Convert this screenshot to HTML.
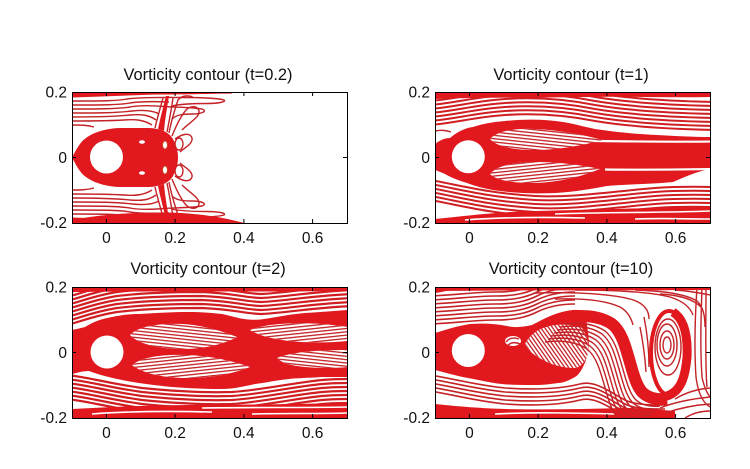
<!DOCTYPE html>
<html><head><meta charset="utf-8"><style>
html,body{margin:0;padding:0;background:#fff}
svg{display:block}
text{font-family:"Liberation Sans",Arial,sans-serif;fill:#111}
.tk{font-size:15.5px}
.tt{font-size:16.4px}
.f{fill:#e1191e}
.l{fill:none;stroke:#c42226;stroke-width:1.4}
.t{fill:none;stroke:#d01e22;stroke-width:2}
.wl{fill:none;stroke:#fff;stroke-width:1.6}
.ax{fill:none;stroke:#000;stroke-width:1}
</style></head><body>
<svg width="750" height="469" viewBox="0 0 750 469" xmlns="http://www.w3.org/2000/svg">
<defs>
<clipPath id="c"><rect width="275" height="131"/></clipPath>
<pattern id="pa" width="10" height="3.3" patternUnits="userSpaceOnUse" patternTransform="rotate(6)"><rect width="10" height="1.3" fill="#c42226"/></pattern>
<pattern id="pb" width="10" height="3.3" patternUnits="userSpaceOnUse" patternTransform="rotate(-6)"><rect width="10" height="1.3" fill="#c42226"/></pattern>
<pattern id="pc" width="10" height="3.2" patternUnits="userSpaceOnUse" patternTransform="rotate(55)"><rect width="10" height="1.3" fill="#c42226"/></pattern>
</defs>

<!-- ============ Panel 1 (t=0.2) ============ -->
<g transform="translate(72,92)">
<g clip-path="url(#c)">
<rect width="275" height="131" fill="#fff"/>
<path class="f" d="M0,65.5 C4,58 8,50 14,46 C22,40 35,36 50,36 L75,36 C88,36 97,40 101,47 C105,55 106,60 106,65.5 C106,71 105,76 101,84 C97,91 88,95 75,95 L50,95 C35,95 22,91 14,85 C8,81 4,73 0,65.5 Z"/>
<g id="p1u">
<path class="f" d="M0,0 H160 V1.5 C130,2 110,2.5 90,2.5 C60,3 35,4.5 0,5.5 Z"/>
<path class="l" d="M0,9 C30,9 45,9 55,7 C70,5 90,5.5 110,5.5 C130,5.5 145,6 152,8 C155,10 145,11.5 135,11.5 C120,11.5 108,12 100,14"/>
<path class="l" d="M0,13 C30,13 48,13 58,11 C70,9 85,9.5 97,10"/>
<path class="l" d="M0,17 C25,17 45,17 58,15 C68,13 80,13.5 92,14.5 C105,15.5 118,15 130,17 C136,19 130,22 120,22 C110,22 104,23 100,27"/>
<path class="l" d="M0,21 C25,21 45,21 60,19 C70,18 80,18 87,22"/>
<path class="l" d="M0,25 C20,25 40,25 58,23 C70,22 77,23 84,28"/>
<path class="l" d="M0,29 C18,29 35,29 52,28 C64,27 72,28 80,33"/>
<path class="l" d="M0,33 C8,33 15,33 22,35"/>
<path class="f" d="M86,37 C88,27 91,16 94,4 L97,4 C95,16 93,27 92,39 Z"/>
<path class="l" d="M83,36 C85,27 88,17 91,6"/>
<path class="l" d="M95,40 C97,30 99,20 101,6"/>
<path class="l" d="M97,41 C99,30 102,20 106,8 C110,3 118,3 122,6"/>
<path class="l" d="M100,44 C104,34 108,25 114,18 C119,13 126,14 127,19 C128,25 118,30 110,38"/>
<path class="l" d="M103,47 C110,42 118,40 120,46 C121,52 112,56 108,60"/>
<ellipse class="l" cx="107" cy="52" rx="4" ry="6"/>
<ellipse cx="93" cy="53" rx="2.5" ry="4" fill="#fff" stroke="#c42" stroke-width="1"/>
<ellipse cx="70" cy="50" rx="3" ry="1.8" fill="#fff"/>
</g>
<use href="#p1u" transform="matrix(1,0,0,-1,0,131)"/>
<path class="f" d="M0,131 L0,128 C30,122 60,120.5 95,120.5 C125,121 150,125 172,131 Z"/>
<circle cx="34.5" cy="65" r="16.5" fill="#fff"/>
</g>
<rect class="ax" x="0.5" y="0.5" width="275" height="131"/>
<path class="ax" d="M34.4,131V127M103.1,131V127M171.9,131V127M240.6,131V127M34.4,0V4M103.1,0V4M171.9,0V4M240.6,0V4M0,65.5H4M275,65.5H271"/>
</g>

<!-- ============ Panel 2 (t=1) ============ -->
<g transform="translate(435,92)">
<g clip-path="url(#c)">
<rect width="275" height="131" fill="#fff"/>
<path id="u2" class="t" d="M-5,33 C20,31 40,25 70,23 C100,21 130,23 160,29 C190,34 230,37 280,38"/>
<use href="#u2" y="-4"/><use href="#u2" y="-8"/><use href="#u2" y="-12"/><use href="#u2" y="-16"/><use href="#u2" y="-20"/><use href="#u2" y="-24"/><use href="#u2" y="-28"/>
<path class="l" d="M0,39 C6,38 10,38 16,40"/>
<path id="l2" class="t" d="M-5,88 C20,92 50,101 100,104 C140,106 180,99 220,96 C250,94 265,95 280,95"/>
<use href="#l2" y="4"/><use href="#l2" y="8"/><use href="#l2" y="12"/><use href="#l2" y="16"/><use href="#l2" y="20"/>
<path class="f" d="M0,52 C5,48 10,46 15,46 C22,40 30,36 38,35 C50,31 60,30 70,29 C90,27 110,27 128,30 C140,32 150,35 160,37 C180,40 200,42 222,43 C240,44 260,45 275,45 L275,77 C260,80 250,85 238,90 C220,92 195,92 172,94 C155,97 140,100 120,101 C100,102 80,101 65,99 C50,97 40,94 32,91 C22,88 15,85 10,82 C5,80 3,79 0,78 Z"/>
<path d="M160,49 C200,49.5 240,50 280,49.5" stroke="#fff" stroke-width="2.2" fill="none"/>
<path d="M170,77.5 C210,78 245,77.5 280,77" stroke="#fff" stroke-width="2.2" fill="none"/>
<path d="M55,47 C62,39 80,36 100,37 C122,38 145,42 168,48 C145,54 122,58 100,58 C80,58 62,55 55,47 Z" fill="#fff"/>
<path d="M55,47 C62,39 80,36 100,37 C122,38 145,42 168,48 C145,54 122,58 100,58 C80,58 62,55 55,47 Z" fill="url(#pa)"/>
<path d="M55,82 C62,73 82,70 100,70 C125,70 145,73 165,77 C145,85 125,90 100,91 C80,91 62,89 55,82 Z" fill="#fff"/>
<path d="M55,82 C62,73 82,70 100,70 C125,70 145,73 165,77 C145,85 125,90 100,91 C80,91 62,89 55,82 Z" fill="url(#pb)"/>
<path class="f" d="M0,0 H275 V5 C230,6 190,4 150,5 C100,6 50,5 0,7 Z"/>
<path class="f" d="M0,131 V127 C30,124 60,120 100,119 C150,118 200,116 275,115 V131 Z"/>
<path class="wl" d="M30,128 C70,125 110,125 150,126"/>
<path class="wl" d="M120,122 C170,120 220,121 275,119"/>
<path class="wl" d="M200,127 C230,126 250,127 275,127"/>
<circle cx="33.3" cy="64.7" r="16.5" fill="#fff"/>
</g>
<rect class="ax" x="0.5" y="0.5" width="275" height="131"/>
<path class="ax" d="M34.4,131V127M103.1,131V127M171.9,131V127M240.6,131V127M34.4,0V4M103.1,0V4M171.9,0V4M240.6,0V4M0,65.5H4M275,65.5H271"/>
</g>

<!-- ============ Panel 3 (t=2) ============ -->
<g transform="translate(72,287)">
<g clip-path="url(#c)">
<rect width="275" height="131" fill="#fff"/>
<path id="u3" class="t" d="M-5,38 C10,34 25,28 45,25 C70,22 100,21 130,21 C160,22 175,27 190,27 C210,26 240,21 280,19" style="stroke-width:2.2"/>
<use href="#u3" y="-4"/><use href="#u3" y="-8"/><use href="#u3" y="-12"/><use href="#u3" y="-16"/><use href="#u3" y="-20"/><use href="#u3" y="-24"/><use href="#u3" y="-28"/><use href="#u3" y="-32"/>
<path id="l3" class="t" d="M-5,88 C15,90 40,97 70,101 C100,104 130,106 160,105 C190,103 220,96 250,93 C262,92 270,92 280,92" style="stroke-width:2.2"/>
<use href="#l3" y="4"/><use href="#l3" y="8"/><use href="#l3" y="12"/><use href="#l3" y="16"/><use href="#l3" y="20"/><use href="#l3" y="24"/>
<path class="f" d="M0,43 C5,42 9,41 13,40 C18,37 22,35 25,34 C30,32 35,31 40,30 C50,28 58,27 67,27 C85,26 100,25 117,25 C130,25 140,26 150,27 C160,29 165,31 172,32 C180,33 185,33 192,32 C205,30 220,27 233,26 C250,25 262,24 275,23 L275,90 C262,90 255,90 250,90 C235,91 225,91 217,92 C200,94 192,96 183,97 C170,100 160,102 150,102 C130,102 115,101 100,100 C80,98 65,96 50,93 C35,90 25,87 17,84 C10,84 5,86 0,87 Z"/>
<path d="M58,48 C65,40 85,36 110,37 C130,38 150,44 165,50 C150,58 130,62 110,62 C85,62 65,56 58,48 Z" fill="#fff"/>
<path d="M58,48 C65,40 85,36 110,37 C130,38 150,44 165,50 C150,58 130,62 110,62 C85,62 65,56 58,48 Z" fill="url(#pa)"/>
<path d="M60,78 C70,70 90,67 115,68 C140,69 160,74 178,80 C160,87 140,91 115,91 C90,91 70,86 60,78 Z" fill="#fff"/>
<path d="M60,78 C70,70 90,67 115,68 C140,69 160,74 178,80 C160,87 140,91 115,91 C90,91 70,86 60,78 Z" fill="url(#pb)"/>
<path d="M178,43 C192,37 220,35 250,37 C262,38 270,39 276,40 V54 C255,56 230,56 210,53 C195,51 184,47 178,43 Z" fill="#fff"/>
<path d="M178,43 C192,37 220,35 250,37 C262,38 270,39 276,40 V54 C255,56 230,56 210,53 C195,51 184,47 178,43 Z" fill="url(#pb)"/>
<path d="M205,71 C220,65 245,63 276,63 V80 C255,82 230,81 215,77 C210,75 207,73 205,71 Z" fill="#fff"/>
<path d="M205,71 C220,65 245,63 276,63 V80 C255,82 230,81 215,77 C210,75 207,73 205,71 Z" fill="url(#pa)"/>
<path class="f" d="M0,0 H275 V4 C200,5 100,4 0,5 Z"/>
<path class="f" d="M0,131 V122 C40,120 80,118 120,118 C170,118 220,117 275,116 V131 Z"/>
<path class="wl" d="M20,127 C60,124 100,124 140,125"/>
<path class="wl" d="M130,121 C180,120 230,121 275,120"/>
<path class="wl" d="M180,127 C215,126 245,127 275,126"/>
<circle cx="35" cy="65" r="16.5" fill="#fff"/>
</g>
<rect class="ax" x="0.5" y="0.5" width="275" height="131"/>
<path class="ax" d="M34.4,131V127M103.1,131V127M171.9,131V127M240.6,131V127M34.4,0V4M103.1,0V4M171.9,0V4M240.6,0V4M0,65.5H4M275,65.5H271"/>
</g>

<!-- ============ Panel 4 (t=10) ============ -->
<g transform="translate(435,287)">
<g clip-path="url(#c)">
<rect width="275" height="131" fill="#fff"/>
<path id="u4" class="l" d="M-5,37 C20,36 40,33 60,33 C80,33 92,30 102,25 C112,20 125,17 140,17" style="stroke-width:1.6"/>
<use href="#u4" y="-4"/><use href="#u4" y="-8"/><use href="#u4" y="-12"/><use href="#u4" y="-16"/><use href="#u4" y="-20"/><use href="#u4" y="-24"/><use href="#u4" y="-28"/>
<path class="l" d="M100,6 C140,5 175,7 195,12 C210,16 214,24 214,32"/>
<path class="l" d="M120,12 C150,11 172,14 185,20 C192,24 196,30 198,38"/>
<path class="l" d="M140,3 C180,3 215,5 235,10 C248,14 255,20 258,28"/>
<path class="l" d="M200,3 C230,4 250,7 262,14 C268,20 270,28 270,40"/>
<path class="l" d="M225,7 C245,8 258,12 266,20"/>
<path class="l" d="M240,3 C255,4 265,6 275,8"/>
<path class="l" d="M262,0 C260,30 259,60 261,90 C263,105 267,115 275,120"/>
<path class="l" d="M267,0 C266,30 265,60 267,90 C269,100 272,106 275,110"/>
<path class="l" d="M271,0 C271,40 270,80 272,100"/>
<path class="l" d="M205,40 C208,55 210,70 211,85"/>
<path class="l" d="M209,30 C212,45 214,60 214,80"/>
<path id="l4" class="l" d="M-5,88 C15,91 40,98 70,101 C100,103 125,102 145,97 C160,93 175,105 190,113 C200,118 215,118 230,118" style="stroke-width:1.6"/>
<use href="#l4" y="4"/><use href="#l4" y="8"/><use href="#l4" y="12"/><use href="#l4" y="16"/>
<path class="f" d="M0,131 V117 C20,119 40,121 70,122 C110,123 150,122 190,121 C210,121 225,123 240,124 V131 Z"/>
<path class="wl" d="M60,127 C100,125 140,126 180,127"/>
<path class="l" d="M225,121 C240,115 255,112 275,110"/>
<path class="l" d="M230,126 C245,121 260,118 275,117"/>
<path class="l" d="M250,131 C258,126 266,124 275,124"/>
<path class="l" d="M240,112 C250,106 262,102 275,101"/>
<path class="f" d="M0,46 C10,43 22,39 35,37 C50,36 62,37 72,39 C80,41 88,40 97,38 C105,34 115,28 127,25 C135,23 142,22 150,24 L153,45 C155,60 153,70 148,80 C145,86 142,89 140,90 C133,94 128,96 123,96 C110,98 105,98 97,98 C85,98 75,98 67,97 C55,96 45,93 33,91 C22,89 12,86 0,83 Z"/>
<path d="M90,57 C95,47 105,41 115,39 C125,37 135,37 147,41 C152,48 154,58 153,67 C150,75 146,80 140,81 C130,81 120,79 110,74 C100,69 93,64 90,57 Z" fill="#fff"/>
<path d="M90,57 C95,47 105,41 115,39 C125,37 135,37 147,41 C152,48 154,58 153,67 C150,75 146,80 140,81 C130,81 120,79 110,74 C100,69 93,64 90,57 Z" fill="url(#pc)"/>
<ellipse cx="78" cy="54" rx="8" ry="5" fill="#fff"/>
<path class="l" d="M71,55 C74,51 78,50 84,52 M73,58 C77,55 81,55 85,57"/>
<path id="ai" class="l" d="M135,30 C150,28 165,29 177,37 C186,44 190,58 194,72 C198,86 201,98 207,105 C213,111 222,113 232,112"/>
<use href="#ai" transform="translate(-7,7)"/><use href="#ai" transform="translate(-10,10)"/><use href="#ai" transform="translate(-13,13)"/><use href="#ai" transform="translate(-16,16)"/><use href="#ai" transform="translate(-19,19)"/><use href="#ai" transform="translate(-22,22)"/><use href="#ai" transform="translate(-25,25)"/>
<ellipse class="l" cx="232" cy="58" rx="4" ry="8"/>
<ellipse class="l" cx="232" cy="58" rx="7" ry="14"/>
<ellipse class="l" cx="232" cy="58" rx="10" ry="21"/>
<ellipse class="l" cx="233" cy="60" rx="13" ry="28"/>
<ellipse cx="234" cy="66" rx="18" ry="42" fill="none" stroke="#e1191e" stroke-width="4"/>
<path d="M135,30 C150,28 165,29 177,37 C186,44 190,58 194,72 C198,86 201,98 207,105 C213,111 222,113 232,112" fill="none" stroke="#e1191e" stroke-width="12"/>
<path d="M228,110 C244,107 250,94 252,70 C253,48 249,32 238,25" fill="none" stroke="#e1191e" stroke-width="9"/>
<path class="f" d="M0,0 H275 V3 C200,3.5 100,3 0,4 Z"/>
<path class="f" d="M0,0 H25 C15,3 8,5 0,6 Z"/>
<circle cx="33.3" cy="63.5" r="16.5" fill="#fff"/>
</g>
<rect class="ax" x="0.5" y="0.5" width="275" height="131"/>
<path class="ax" d="M34.4,131V127M103.1,131V127M171.9,131V127M240.6,131V127M34.4,0V4M103.1,0V4M171.9,0V4M240.6,0V4M0,65.5H4M275,65.5H271"/>
</g>

<!-- ============ Text ============ -->
<text class="tt" x="208" y="80" text-anchor="middle">Vorticity contour (t=0.2)</text>
<text class="tt" x="571" y="80" text-anchor="middle">Vorticity contour (t=1)</text>
<text class="tt" x="208" y="274" text-anchor="middle">Vorticity contour (t=2)</text>
<text class="tt" x="571" y="274" text-anchor="middle">Vorticity contour (t=10)</text>

<g class="tk" text-anchor="end">
<text x="67" y="97.5">0.2</text><text x="67" y="163">0</text><text x="67" y="228">-0.2</text>
<text x="430" y="97.5">0.2</text><text x="430" y="163">0</text><text x="430" y="228">-0.2</text>
<text x="67" y="292.5">0.2</text><text x="67" y="358">0</text><text x="67" y="423">-0.2</text>
<text x="430" y="292.5">0.2</text><text x="430" y="358">0</text><text x="430" y="423">-0.2</text>
</g>
<g class="tk" text-anchor="middle">
<text x="106.4" y="243">0</text><text x="175.1" y="243">0.2</text><text x="243.9" y="243">0.4</text><text x="312.6" y="243">0.6</text>
<text x="469.4" y="243">0</text><text x="538.1" y="243">0.2</text><text x="606.9" y="243">0.4</text><text x="675.6" y="243">0.6</text>
<text x="106.4" y="438">0</text><text x="175.1" y="438">0.2</text><text x="243.9" y="438">0.4</text><text x="312.6" y="438">0.6</text>
<text x="469.4" y="438">0</text><text x="538.1" y="438">0.2</text><text x="606.9" y="438">0.4</text><text x="675.6" y="438">0.6</text>
</g>
</svg>
</body></html>
